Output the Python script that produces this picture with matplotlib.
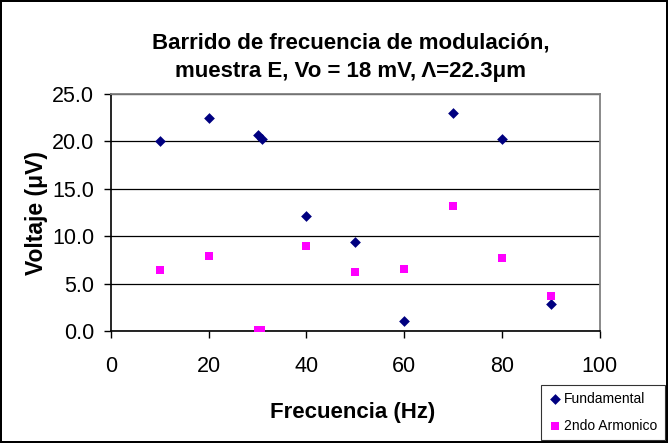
import matplotlib
matplotlib.use("Agg")
import matplotlib.pyplot as plt
from matplotlib.ticker import FormatStrFormatter

plt.rcParams['font.family'] = ['Liberation Sans', 'DejaVu Sans']

freq_fund = [10, 20, 30, 31, 40, 50, 60, 70, 80, 90]
volt_fund = [20.0, 22.5, 20.7, 20.2, 12.1, 9.4, 1.0, 23.0, 20.2, 2.8]
freq_arm = [10, 20, 30, 30.8, 40, 50, 60, 70, 80, 90]
volt_arm = [6.4, 7.9, 0.1, 0.1, 9.0, 6.2, 6.5, 13.2, 7.7, 3.7]
xticks = [0, 20, 40, 60, 80, 100]
yticks = [0.0, 5.0, 10.0, 15.0, 20.0, 25.0]

fig = plt.figure(figsize=(6.68, 4.43), dpi=100)
fig.patch.set_edgecolor('black')
fig.patch.set_linewidth(1.5)
ax = fig.add_axes([0.166, 0.253, 0.732, 0.535])

ax.scatter(freq_fund, volt_fund, marker='D', s=30, color='#000080', label='Fundamental', zorder=3, linewidths=0)
ax.scatter(freq_arm, volt_arm, marker='s', s=38, color='#FF00FF', label='2ndo Armonico', zorder=3, linewidths=0)

ax.set_xlim(0, 100)
ax.set_ylim(0, 25)
ax.set_xticks(xticks)
ax.set_yticks(yticks)
ax.yaxis.set_major_formatter(FormatStrFormatter('%.1f'))
ax.tick_params(axis='both', direction='out', length=5, labelsize=15.5, color='black', width=1)
ax.tick_params(axis='x', pad=13)
ax.tick_params(axis='y', pad=7)
ax.grid(axis='y', color='black', linewidth=0.9)
ax.set_axisbelow(True)
for s in ['top', 'right']:
    ax.spines[s].set_color('#808080')
    ax.spines[s].set_linewidth(1.3)
for s in ['left', 'bottom']:
    ax.spines[s].set_color('black')
    ax.spines[s].set_linewidth(1.2)

fig.text(0.525, 0.903, 'Barrido de frecuencia de modulación,', ha='center', va='center', fontsize=16, fontweight='bold')
fig.text(0.525, 0.838, 'muestra E, Vo = 18 mV, Λ=22.3μm', ha='center', va='center', fontsize=16, fontweight='bold')
fig.text(0.528, 0.068, 'Frecuencia (Hz)', ha='center', va='center', fontsize=16, fontweight='bold')
fig.text(0.054, 0.52, 'Voltaje (μV)', ha='center', va='center', rotation=90, fontsize=16.5, fontweight='bold')

leg = fig.legend(loc='lower right', bbox_to_anchor=(1.0, 0.0), fontsize=10, frameon=True, fancybox=False,
                 edgecolor='black', handletextpad=0.2, borderpad=0.5, handlelength=1.0, labelspacing=0.9,
                 borderaxespad=0.25)
leg.get_frame().set_linewidth(0.8)

fig.savefig('out.png', dpi=100, edgecolor=fig.get_edgecolor())
